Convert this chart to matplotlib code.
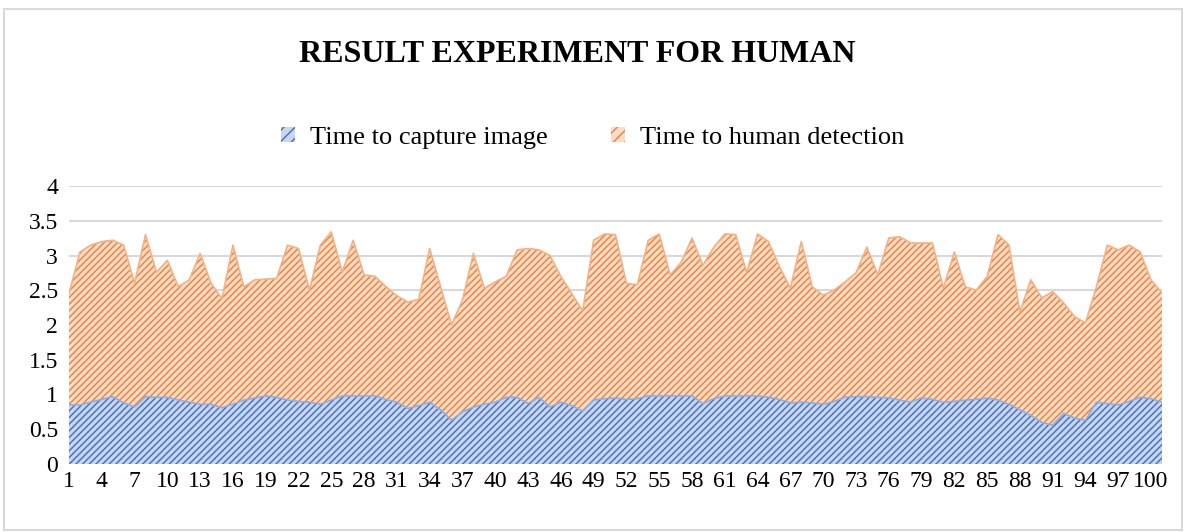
import numpy as np
import matplotlib
matplotlib.use("Agg")
import matplotlib.pyplot as plt
from matplotlib.patches import Patch, Rectangle

# sample number 1..101
samples = list(range(1, 102))

# time to capture image (s)
capture = [0.85, 0.85, 0.89, 0.93, 0.97, 0.88, 0.82, 0.97, 0.96, 0.96,
           0.92, 0.89, 0.86, 0.86, 0.81, 0.86, 0.92, 0.95, 0.98, 0.96,
           0.92, 0.90, 0.89, 0.86, 0.92, 0.98, 0.98, 0.98, 0.98, 0.93,
           0.89, 0.80, 0.84, 0.89, 0.78, 0.63, 0.75, 0.82, 0.86, 0.89,
           0.96, 0.96, 0.87, 0.96, 0.82, 0.89, 0.84, 0.76, 0.92, 0.94,
           0.95, 0.93, 0.94, 0.98, 0.98, 0.98, 0.98, 0.98, 0.87, 0.94,
           0.98, 0.98, 0.98, 0.98, 0.96, 0.93, 0.88, 0.89, 0.88, 0.86,
           0.90, 0.96, 0.97, 0.97, 0.96, 0.95, 0.92, 0.89, 0.95, 0.93,
           0.89, 0.90, 0.92, 0.93, 0.95, 0.92, 0.86, 0.78, 0.70, 0.60,
           0.56, 0.73, 0.66, 0.63, 0.89, 0.87, 0.85, 0.90, 0.96, 0.94,
           0.89]

# time to human detection (s)
detection = [1.60, 2.20, 2.26, 2.27, 2.25, 2.27, 1.78, 2.33, 1.80, 1.97,
             1.63, 1.76, 2.17, 1.74, 1.57, 2.29, 1.63, 1.70, 1.68, 1.71,
             2.23, 2.20, 1.61, 2.29, 2.42, 1.78, 2.24, 1.74, 1.72, 1.62,
             1.53, 1.53, 1.53, 2.21, 1.77, 1.37, 1.61, 2.21, 1.67, 1.73,
             1.74, 2.12, 2.23, 2.12, 2.18, 1.81, 1.61, 1.44, 2.30, 2.37,
             2.35, 1.67, 1.64, 2.24, 2.33, 1.74, 1.92, 2.27, 1.99, 2.18,
             2.33, 2.32, 1.77, 2.33, 2.24, 1.91, 1.65, 2.31, 1.67, 1.57,
             1.60, 1.66, 1.78, 2.15, 1.76, 2.30, 2.35, 2.29, 2.23, 2.25,
             1.64, 2.15, 1.63, 1.57, 1.75, 2.38, 2.29, 1.41, 1.95, 1.79,
             1.92, 1.59, 1.46, 1.40, 1.66, 2.28, 2.23, 2.25, 2.09, 1.71,
             1.57]

series_names = ["Time to capture image", "Time to human detection"]
yticks = [0, 0.5, 1, 1.5, 2, 2.5, 3, 3.5, 4]
ytick_labels = ["0", "0.5", "1", "1.5", "2", "2.5", "3", "3.5", "4"]

plt.rcParams['font.family'] = ['Liberation Serif', 'DejaVu Serif']
plt.rcParams['hatch.linewidth'] = 1.1

blue_face, blue_hatch = '#c7d7f2', '#4c74bf'
orange_face, orange_hatch = '#fbdcc6', '#ee8540'
hatch = '/////'

fig = plt.figure(figsize=(11.86, 5.32), dpi=100)
ax = fig.add_axes([69/1186, 1-464/532, (1162-69)/1186, (464-186)/532])

x = np.array(samples)
cap = np.array(capture)
tot = cap + np.array(detection)

# stacked areas, hatch drawn in edge colour
ax.fill_between(x, 0, cap, facecolor=blue_face, edgecolor=blue_hatch,
                hatch=hatch, linewidth=0, zorder=2)
ax.fill_between(x, cap, tot, facecolor=orange_face, edgecolor=orange_hatch,
                hatch=hatch, linewidth=0, zorder=2)
ax.plot(x, cap, color='#8eaee0', lw=1.2, zorder=3)
ax.plot(x, tot, color='#f4b183', lw=1.2, zorder=3)

ax.set_xlim(1, 101)
ax.set_ylim(0, 4)
ax.set_yticks(yticks)
ax.set_yticklabels(ytick_labels, fontsize=17)
ax.set_xticks(samples[::3])
ax.set_xticklabels([str(s) for s in samples[::3]], fontsize=17)
ax.tick_params(axis='y', length=0, pad=8)
ax.tick_params(axis='x', length=0, pad=5)
ax.grid(axis='y', color='#d9d9d9', lw=1.5, zorder=0)
ax.set_axisbelow(True)
for s in ax.spines.values():
    s.set_visible(False)

fig.text(577/1186, 1-55/532, "RESULT EXPERIMENT FOR HUMAN", ha='center',
         va='center', fontsize=23, fontweight='bold')

handles = [Patch(facecolor=blue_face, edgecolor=blue_hatch, hatch='///', linewidth=0),
           Patch(facecolor=orange_face, edgecolor=orange_hatch, hatch='///', linewidth=0)]
fig.legend(handles, series_names, loc='center', bbox_to_anchor=(593/1186, 1-138/532),
           ncol=2, frameon=False, fontsize=19, handlelength=0.5, handleheight=0.5,
           handletextpad=0.6, columnspacing=2.4)

# chart border
fig.add_artist(Rectangle((4/1186, 2/532), 1178/1186, 521/532, transform=fig.transFigure,
                         fill=False, edgecolor='#d9d9d9', lw=1.5))

fig.savefig("out.png", dpi=100)
